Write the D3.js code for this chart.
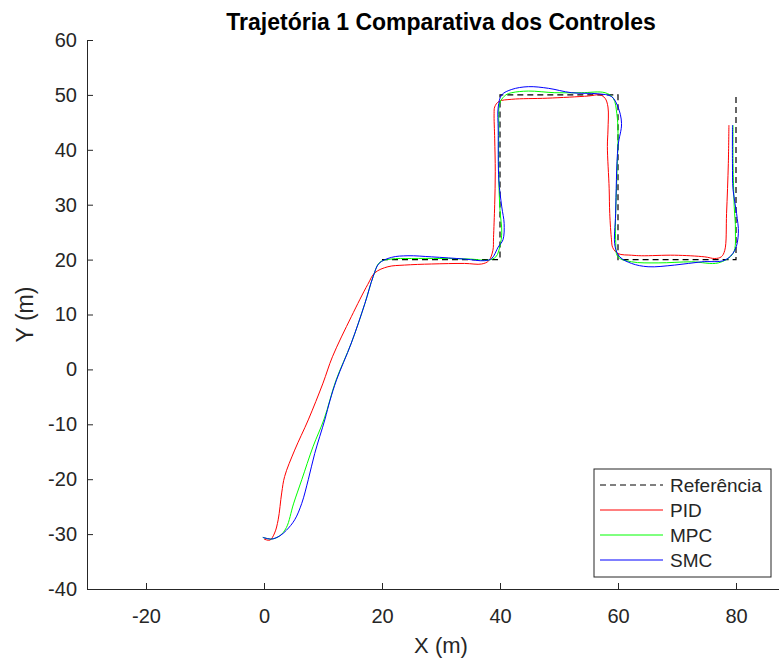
<!DOCTYPE html>
<html>
<head>
<meta charset="utf-8">
<script src="https://cdn.jsdelivr.net/npm/d3@7"></script>
<style>
  body { margin: 0; background: #fff; }
  text { font-family: "Liberation Sans", Arial, sans-serif; fill: #262626; }
</style>
</head>
<body>
<div id="chart"></div>
<script>
// data
const xTicks = [-20, 0, 20, 40, 60, 80];
const yTicks = [-40, -30, -20, -10, 0, 10, 20, 30, 40, 50, 60];

const refX = [20, 40, 40, 60, 60, 80, 80];
const refY = [20, 20, 50, 50, 20, 20, 50];

const pidX = [0, 1.0, 1.8, 2.4, 3.0, 3.5, 5.2, 7.5, 10.0, 11.6, 14.8, 17.6, 18.8, 21, 23.8, 28.4, 34, 36.9, 38.1, 38.8, 38.9, 39.1, 39.2, 39.1, 39.0, 39.1, 39.8, 42, 48, 55, 56.9, 57.8, 58.3, 58.3, 58.2, 58.5, 58.6, 58.9, 59.1, 60, 62.3, 64, 69.6, 74.7, 76.4, 77.5, 78.1, 78.4, 78.7, 78.8];
const pidY = [-30.9, -31.1, -29.8, -27.4, -22.5, -19.5, -14.7, -9.2, -2.5, 2.3, 9.6, 15.5, 17.6, 18.7, 19.0, 19.2, 19.3, 19.2, 19.8, 21.7, 24, 30, 36, 42, 46.6, 47.8, 48.8, 49.2, 49.4, 49.8, 50.0, 49.4, 47.8, 43.6, 40.6, 33, 28.4, 23.6, 22.2, 21.1, 20.8, 20.7, 20.8, 20.5, 20.2, 20.5, 21.7, 28.4, 37.5, 44.5];

const mpcX = [-0.2, 1.3, 2.7, 3.8, 5.0, 6.4, 8.3, 10.2, 12.2, 14.8, 17.1, 18.5, 19.6, 21.5, 25, 30, 35, 38, 39.3, 40, 40.3, 40.0, 39.8, 39.8, 40, 41, 42, 44.8, 49.3, 53.8, 57.8, 59.2, 59.8, 60, 59.8, 59.6, 60, 62.3, 66.8, 72.5, 77, 79.5, 79.9, 79.7, 79.5, 79.5];
const mpcY = [-30.6, -30.9, -30.3, -28.8, -24.5, -20.1, -14.1, -9, -2, 4.8, 12, 16.9, 19.5, 20.1, 20.2, 20.2, 20.1, 19.9, 20.5, 22.5, 25, 29, 34.5, 43.6, 48.6, 50, 50.4, 50.7, 50.4, 50.4, 50.4, 49.4, 46.6, 43, 35, 23.6, 20.5, 19.6, 19.4, 19.6, 19.4, 21.1, 25.4, 29.6, 37.5, 44.5];

const smcX = [-0.2, 1.3, 2.7, 3.8, 5.2, 6.4, 7.5, 8.6, 10.3, 11.2, 12.3, 14.8, 17.1, 18.5, 19.5, 21.6, 24.4, 28.4, 34, 37.4, 38.6, 39.7, 40.5, 40.7, 40.3, 39.8, 39.7, 39.7, 40.3, 42, 44.8, 48.2, 52.1, 56.6, 58.9, 60, 60.6, 60, 59.6, 59.5, 60.3, 62.3, 65.1, 69.6, 74.2, 78.1, 79.8, 80.4, 80.1, 79.5, 79.4, 79.4];
const smcY = [-30.6, -30.9, -30.3, -29.3, -27.4, -24.4, -20.1, -15.3, -9.2, -5.6, -1.9, 4.8, 12, 16.9, 19.3, 20.4, 20.7, 20.5, 20.1, 19.8, 20.2, 22.3, 23.6, 26.6, 29.6, 34.5, 43.6, 47.8, 50, 51, 51.5, 51.2, 50.4, 50.2, 49.7, 47.8, 44.8, 40.6, 28.4, 22.4, 20.5, 19.3, 18.7, 19, 19.6, 19.9, 21.7, 24.8, 28.4, 32.7, 37.5, 44.5];

const seriesNames = ["Referência", "PID", "MPC", "SMC"];
const seriesColors = ["#000000", "#ff0000", "#00ff00", "#0000ff"];

// layout
const W = 779, H = 661;
const plotL = 87, plotR = 795, plotT = 40, plotB = 589;

const svg = d3.select("#chart").append("svg")
    .attr("width", W)
    .attr("height", H);

const x = d3.scaleLinear().domain([-30, 90]).range([plotL, plotR]);
const y = d3.scaleLinear().domain([-40, 60]).range([plotB, plotT]);

// axes (MATLAB style, ticks inside, plain hyphen for negatives)
const xAxis = svg.append("g")
    .attr("transform", `translate(0,${plotB})`)
    .call(d3.axisBottom(x).tickValues(xTicks).tickFormat(d => String(d))
        .tickSize(-6).tickPadding(20).tickSizeOuter(0));
const yAxis = svg.append("g")
    .attr("transform", `translate(${plotL},0)`)
    .call(d3.axisLeft(y).tickValues(yTicks).tickFormat(d => String(d))
        .tickSize(-6).tickPadding(10).tickSizeOuter(0));

[xAxis, yAxis].forEach(g => {
    g.select(".domain").attr("stroke", "#262626").attr("stroke-width", 1);
    g.selectAll(".tick line").attr("stroke", "#262626").attr("stroke-width", 1);
    g.selectAll(".tick text")
        .attr("fill", "#262626")
        .style("font-size", "20px")
        .style("font-family", "'Liberation Sans', Arial, sans-serif");
});

// lines
const line = d3.line()
    .x(d => x(d[0]))
    .y(d => y(d[1]));
const smooth = d3.line()
    .x(d => x(d[0]))
    .y(d => y(d[1]))
    .curve(d3.curveCatmullRom.alpha(0.5));

const zip = (a, b) => a.map((v, i) => [v, b[i]]);

svg.append("path")
    .attr("fill", "none")
    .attr("stroke", seriesColors[0])
    .attr("stroke-width", 1.2)
    .attr("stroke-dasharray", "6,4")
    .attr("d", line(zip(refX, refY)));

const traj = [zip(pidX, pidY), zip(mpcX, mpcY), zip(smcX, smcY)];
traj.forEach((pts, i) => {
    svg.append("path")
        .attr("fill", "none")
        .attr("stroke", seriesColors[i + 1])
        .attr("stroke-width", 1)
        .attr("d", smooth(pts));
});

// title and labels
svg.append("text")
    .attr("x", (plotL + plotR) / 2)
    .attr("y", 30)
    .attr("text-anchor", "middle")
    .style("font-size", "23px")
    .style("font-weight", "bold")
    .style("fill", "#000")
    .text("Trajetória 1 Comparativa dos Controles");

svg.append("text")
    .attr("x", (plotL + plotR) / 2)
    .attr("y", 653)
    .attr("text-anchor", "middle")
    .style("font-size", "22px")
    .text("X (m)");

svg.append("text")
    .attr("transform", `translate(33,${(plotT + plotB) / 2}) rotate(-90)`)
    .attr("text-anchor", "middle")
    .style("font-size", "23px")
    .text("Y (m)");

// legend
const lg = svg.append("g").attr("transform", "translate(594,469)");
lg.append("rect")
    .attr("width", 177)
    .attr("height", 108)
    .attr("fill", "#fff")
    .attr("stroke", "#262626")
    .attr("stroke-width", 1);

const item = lg.selectAll(".item")
    .data(seriesNames)
    .enter()
    .append("g")
    .attr("class", "item")
    .attr("transform", (d, i) => `translate(0,${16 + i * 25})`);

item.append("line")
    .attr("x1", 6)
    .attr("x2", 69)
    .attr("stroke", (d, i) => seriesColors[i])
    .attr("stroke-width", 1)
    .attr("stroke-dasharray", (d, i) => i === 0 ? "6,4" : null);

item.append("text")
    .attr("x", 76)
    .attr("dy", "0.35em")
    .style("font-size", "19px")
    .text(d => d);
</script>
</body>
</html>
